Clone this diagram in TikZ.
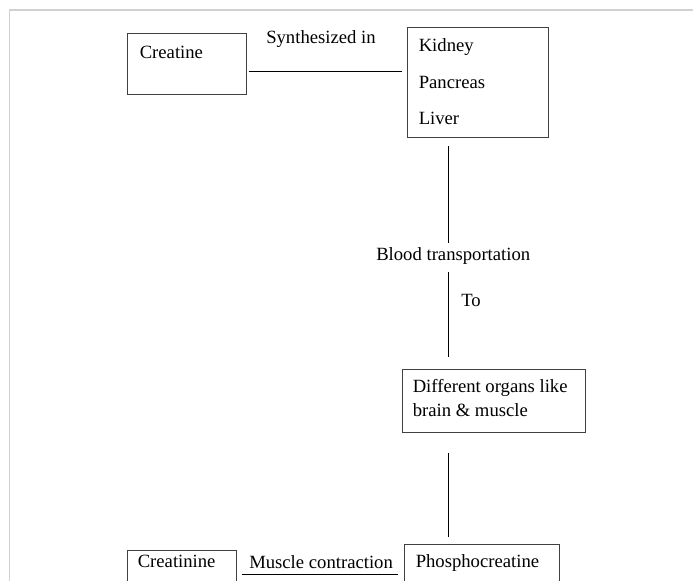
\documentclass[tikz,border=0pt]{standalone}
\usepackage{fontspec}
\setmainfont{Liberation Serif}
\usetikzlibrary{fit, calc}

\begin{document}
\begin{tikzpicture}[
                x=0.75pt, y=-0.75pt,
                every node/.style={font=\fontsize{14}{17}\selectfont},
                box/.style={draw=black!75, line width=0.75pt, inner sep=0pt},
                txt/.style={anchor=base west, inner sep=0pt},
                link/.style={-, line width=0.75pt}]
            \useasboundingbox (0,0) rectangle (693,581);
            % cadre gris
            \draw[black!18, line width=1.2pt] (9.5,581) -- (9.5,10) -- (693,10);
            \coordinate (axis) at (448,0);

            % Boites
            \node[box, fit={(127,34) (246,95)}] (creatine) {};
            \node[box, fit={(407,28) (548,138)}] (kidney) {};
            \node[box, fit={(402,369) (585,432)}] (diff) {};
            \node[box, fit={(127,550) (236,600)}] (creatinine) {};
            \node[box, fit={(404,544) (559,600)}] (phospho) {};

            % Textes
            \node[txt] (creatinetxt) at ($(creatine.north west)+(13,25)$) {Creatine};
            \node[txt] (kidneytxt) at ($(kidney.north west)+(12,24)$) {Kidney};
            \node[txt] (pancreastxt) at ($(kidney.north west)+(12,61)$) {Pancreas};
            \node[txt] (livertxt) at ($(kidney.north west)+(12,97)$) {Liver};
            \node[txt] (difftxt) at ($(diff.north west)+(11,24)$) {Different organs like};
            \node[txt] (braintxt) at ($(diff.north west)+(11,48)$) {brain \& muscle};
            \node[txt] (creatininetxt) at ($(creatinine.north west)+(11,18)$) {Creatinine};
            \node[txt] (phosphotxt) at ($(phospho.north west)+(12,24)$) {Phosphocreatine};

            % Etiquettes
            \node[txt] (synth) at (266,44) {Synthesized in};
            \node[txt] (blood) at (376,261) {Blood transportation};
            \node[txt] (to) at (461,306) {To};
            \node[txt] (contraction) at (249,568) {Muscle contraction};

            % Liens
            \draw[link] ($(creatine.east)+(2,7.5)$) -- ($(kidney.west)+(-5,-11)$);
            \draw[link] ($(kidney.south -| axis)+(0,8)$) -- ($(blood.base -| axis)+(0,-18)$);
            \draw[link] ($(blood.base -| axis)+(0,11)$) -- ($(diff.north -| axis)+(0,-12)$);
            \draw[link] ($(diff.south -| axis)+(0,20)$) -- ($(phospho.north -| axis)+(0,-7)$);
            \draw[link] ($(creatinine.east)+(5,-1)$) -- ($(phospho.west)+(-6,2)$);

        \end{tikzpicture}
\end{document}
